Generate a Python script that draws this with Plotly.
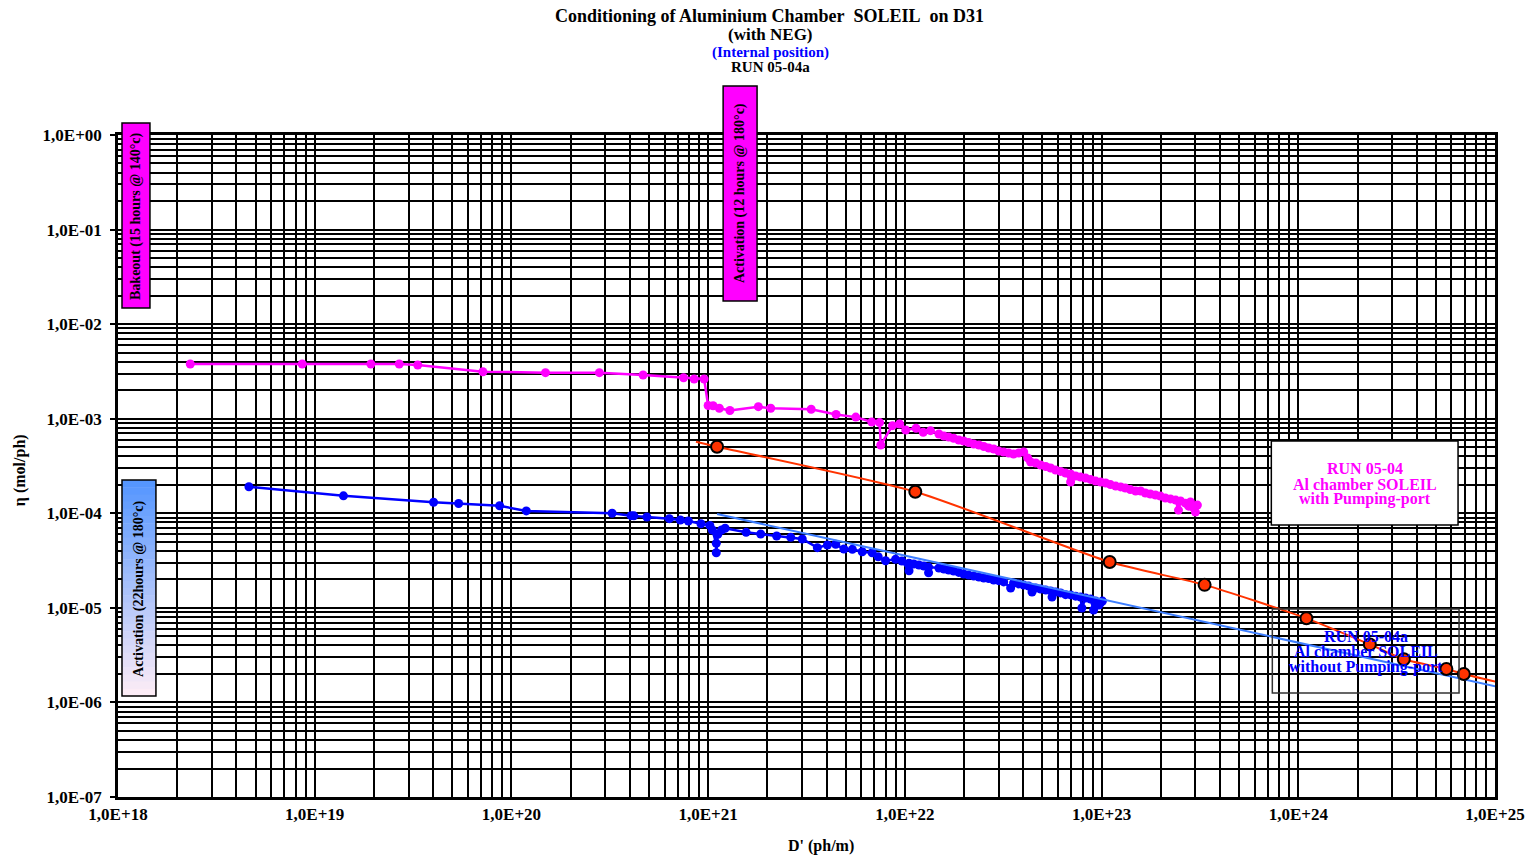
import plotly.graph_objects as go

# ---------------- data ----------------
# RUN 05-04 (with pumping port) - magenta
mag_x = [2.33e18, 8.64e18, 1.93e19, 2.69e19, 3.34e19, 7.16e19, 1.49e20, 2.80e20, 4.67e20, 7.50e20,
         8.49e20, 9.54e20, 1.00e21, 1.06e21, 1.14e21, 1.29e21, 1.80e21, 2.08e21, 3.34e21, 4.47e21,
         5.63e21, 6.79e21, 7.44e21, 7.54e21, 8.65e21, 9.40e21, 1.01e22, 1.14e22, 1.24e22, 1.35e22,
         1.49e22, 1.58e22, 1.67e22, 1.77e22, 1.88e22, 1.99e22, 2.11e22, 2.24e22, 2.38e22, 2.52e22,
         2.67e22, 2.83e22, 3.00e22, 3.18e22, 3.37e22, 3.57e22, 3.79e22, 4.02e22, 4.21e22, 4.36e22,
         4.63e22, 4.90e22, 5.20e22, 5.51e22, 5.84e22, 6.19e22, 6.56e22, 6.96e22, 6.96e22, 7.38e22,
         7.82e22, 8.29e22, 8.79e22, 9.33e22, 9.89e22, 1.05e23, 1.11e23, 1.18e23, 1.25e23, 1.32e23,
         1.40e23, 1.49e23, 1.58e23, 1.67e23, 1.77e23, 1.88e23, 1.99e23, 2.11e23, 2.24e23, 2.38e23,
         2.46e23, 2.52e23, 2.67e23, 2.77e23, 2.83e23, 2.93e23, 3.00e23, 3.07e23]
mag_y = [3.79e-3, 3.79e-3, 3.79e-3, 3.79e-3, 3.70e-3, 3.14e-3, 3.07e-3, 3.07e-3, 2.90e-3, 2.71e-3,
         2.63e-3, 2.63e-3, 1.38e-3, 1.37e-3, 1.29e-3, 1.22e-3, 1.34e-3, 1.29e-3, 1.26e-3, 1.11e-3,
         1.04e-3, 9.23e-4, 9.10e-4, 5.27e-4, 8.44e-4, 8.80e-4, 7.60e-4, 7.92e-4, 7.18e-4, 7.47e-4,
         6.89e-4, 6.57e-4, 6.41e-4, 6.21e-4, 5.96e-4, 5.81e-4, 5.60e-4, 5.40e-4, 5.27e-4, 5.08e-4,
         4.90e-4, 4.78e-4, 4.56e-4, 4.45e-4, 4.34e-4, 4.23e-4, 4.34e-4, 4.45e-4, 3.85e-4, 3.49e-4,
         3.40e-4, 3.24e-4, 3.12e-4, 3.01e-4, 2.87e-4, 2.77e-4, 2.67e-4, 2.14e-4, 2.60e-4, 2.48e-4,
         2.42e-4, 2.36e-4, 2.28e-4, 2.19e-4, 2.14e-4, 2.09e-4, 2.01e-4, 1.94e-4, 1.90e-4, 1.85e-4,
         1.78e-4, 1.72e-4, 1.72e-4, 1.64e-4, 1.60e-4, 1.56e-4, 1.52e-4, 1.45e-4, 1.42e-4, 1.38e-4,
         1.08e-4, 1.35e-4, 1.28e-4, 1.19e-4, 1.32e-4, 1.14e-4, 1.03e-4, 1.22e-4]

# RUN 05-04a (without pumping port) - blue
blue_x = [4.63e18, 1.40e19, 4.02e19, 5.39e19, 8.71e19, 1.19e20, 3.25e20, 4.06e20, 4.19e20, 4.88e20,
          6.35e20, 7.22e20, 7.93e20, 9.19e20, 1.02e21, 1.05e21, 1.10e21, 1.10e21, 1.12e21, 1.17e21,
          1.22e21, 1.56e21, 1.85e21, 2.23e21, 2.63e21, 3.01e21, 3.59e21, 4.04e21, 4.45e21, 4.90e21,
          5.41e21, 6.07e21, 6.82e21, 7.32e21, 7.98e21, 8.97e21, 9.66e21, 1.05e22, 1.05e22, 1.11e22,
          1.18e22, 1.25e22, 1.32e22, 1.32e22, 1.49e22, 1.58e22, 1.67e22, 1.77e22, 1.88e22, 1.99e22,
          2.11e22, 2.24e22, 2.38e22, 2.52e22, 2.67e22, 2.83e22, 3.00e22, 3.18e22, 3.45e22, 3.57e22,
          3.79e22, 4.02e22, 4.26e22, 4.43e22, 4.63e22, 4.90e22, 5.20e22, 5.51e22, 5.60e22, 5.84e22,
          6.19e22, 6.56e22, 6.96e22, 7.38e22, 7.82e22, 7.94e22, 8.29e22, 8.79e22, 9.11e22, 9.33e22,
          9.70e22, 9.89e22, 1.01e23]
blue_y = [1.91e-4, 1.53e-4, 1.31e-4, 1.27e-4, 1.20e-4, 1.06e-4, 1.00e-4, 9.44e-5, 9.40e-5, 9.14e-5,
          8.77e-5, 8.49e-5, 8.28e-5, 7.76e-5, 7.45e-5, 6.65e-5, 4.81e-5, 3.83e-5, 6.00e-5, 6.65e-5,
          6.94e-5, 6.29e-5, 6.04e-5, 5.75e-5, 5.57e-5, 5.35e-5, 4.33e-5, 4.62e-5, 4.70e-5, 4.19e-5,
          4.16e-5, 3.92e-5, 3.83e-5, 3.47e-5, 3.15e-5, 3.26e-5, 3.13e-5, 2.47e-5, 2.96e-5, 2.91e-5,
          2.84e-5, 2.77e-5, 2.35e-5, 2.70e-5, 2.64e-5, 2.57e-5, 2.51e-5, 2.45e-5, 2.37e-5, 2.28e-5,
          2.22e-5, 2.17e-5, 2.12e-5, 2.07e-5, 2.04e-5, 1.97e-5, 1.94e-5, 1.88e-5, 1.62e-5, 1.83e-5,
          1.79e-5, 1.74e-5, 1.70e-5, 1.47e-5, 1.62e-5, 1.58e-5, 1.54e-5, 1.51e-5, 1.30e-5, 1.47e-5,
          1.44e-5, 1.38e-5, 1.37e-5, 1.33e-5, 1.30e-5, 9.96e-6, 1.27e-5, 1.24e-5, 9.48e-6, 1.18e-5,
          1.07e-5, 1.13e-5, 1.18e-5]

# RUN 05-04 extrapolation points (red) and curves
red_x = [1.11e21, 1.13e22, 1.10e23, 3.34e23, 1.10e24, 2.31e24, 3.44e24, 5.66e24, 6.94e24]
red_y = [5.06e-4, 1.69e-4, 3.05e-5, 1.75e-5, 7.75e-6, 4.11e-6, 2.86e-6, 2.26e-6, 2.00e-6]
red_fit_x = [8.67e20, 1.11e21, 1.13e22, 1.10e23, 3.34e23, 1.10e24, 2.31e24, 3.44e24, 5.66e24, 6.94e24, 1.04e25]
red_fit_y = [5.71e-4, 5.06e-4, 1.69e-4, 3.05e-5, 1.75e-5, 7.75e-6, 4.11e-6, 2.86e-6, 2.26e-6, 2.00e-6, 1.63e-6]
blue_fit_x = [1.11e21, 1.23e25]
blue_fit_y = [9.83e-5, 1.35e-6]

x_tickvals = [1e18, 1e19, 1e20, 1e21, 1e22, 1e23, 1e24, 1e25]
x_ticktext = ["1,0E+18", "1,0E+19", "1,0E+20", "1,0E+21", "1,0E+22", "1,0E+23", "1,0E+24", "1,0E+25"]
y_tickvals = [1e0, 1e-1, 1e-2, 1e-3, 1e-4, 1e-5, 1e-6, 1e-7]
y_ticktext = ["1,0E+00", "1,0E-01", "1,0E-02", "1,0E-03", "1,0E-04", "1,0E-05", "1,0E-06", "1,0E-07"]

# ---------------- layout helpers ----------------
W, H = 1537, 856
L, R, T, B = 118, 1497, 135, 797
SERIF = "Liberation Serif, Times New Roman, serif"


def px(x):
    return (x - L) / (R - L)


def py(y):
    return (B - y) / (B - T)


fig = go.Figure()

fig.add_trace(go.Scatter(x=mag_x, y=mag_y, mode="lines+markers",
                         line=dict(color="#FF00FF", width=2.5),
                         marker=dict(color="#FF00FF", size=9), showlegend=False))
fig.add_trace(go.Scatter(x=blue_x, y=blue_y, mode="lines+markers",
                         line=dict(color="#0000FF", width=2.5),
                         marker=dict(color="#0000FF", size=9), showlegend=False))
fig.add_trace(go.Scatter(x=blue_fit_x, y=blue_fit_y, mode="lines",
                         line=dict(color="#3D7EFF", width=2), showlegend=False))
fig.add_trace(go.Scatter(x=red_fit_x, y=red_fit_y, mode="lines",
                         line=dict(color="#FF3300", width=2, shape="spline", smoothing=0.6),
                         showlegend=False))
fig.add_trace(go.Scatter(x=red_x, y=red_y, mode="markers",
                         marker=dict(color="#FF3300", size=12, line=dict(color="black", width=2)),
                         showlegend=False))

shapes = []
# magenta label boxes
shapes.append(dict(type="rect", xref="paper", yref="paper", x0=px(122), x1=px(150), y0=py(308), y1=py(123),
                   fillcolor="#FF00FF", line=dict(color="black", width=1.5), layer="above"))
shapes.append(dict(type="rect", xref="paper", yref="paper", x0=px(724), x1=px(758), y0=py(301), y1=py(86),
                   fillcolor="#FF00FF", line=dict(color="black", width=1.5), layer="above"))
# gradient box (blue -> light pink)
top_c = (85, 150, 255)
bot_c = (252, 236, 246)
nb = 30
y_top, y_bot = 480, 696
for i in range(nb):
    f = i / (nb - 1)
    c = tuple(int(round(top_c[k] + (bot_c[k] - top_c[k]) * f)) for k in range(3))
    ya = y_top + (y_bot - y_top) * i / nb
    yb = y_top + (y_bot - y_top) * (i + 1) / nb
    shapes.append(dict(type="rect", xref="paper", yref="paper", x0=px(122), x1=px(156),
                       y0=py(yb + 0.5), y1=py(ya), fillcolor="rgb(%d,%d,%d)" % c,
                       line=dict(width=0), layer="above"))
shapes.append(dict(type="rect", xref="paper", yref="paper", x0=px(122), x1=px(156), y0=py(696), y1=py(480),
                   fillcolor="rgba(0,0,0,0)", line=dict(color="black", width=1.5), layer="above"))
# legend boxes
shapes.append(dict(type="rect", xref="paper", yref="paper", x0=px(1273), x1=px(1460), y0=py(525), y1=py(441),
                   fillcolor="white", line=dict(color="black", width=1.5), layer="above"))
shapes.append(dict(type="rect", xref="paper", yref="paper", x0=px(1274), x1=px(1461), y0=py(693), y1=py(609),
                   fillcolor="rgba(0,0,0,0)", line=dict(color="#333333", width=1.5), layer="above"))

ann = []


def add_text(x, y, text, size=14, color="black", angle=0, weight="bold"):
    ann.append(dict(xref="paper", yref="paper", x=px(x), y=py(y), text=text, showarrow=False,
                    textangle=angle, xanchor="center", yanchor="middle",
                    font=dict(family=SERIF, size=size, color=color, weight=weight)))


add_text(770, 16, "Conditioning of Aluminium Chamber&nbsp; SOLEIL&nbsp; on D31", size=18)
add_text(771, 35, "(with NEG)", size=17)
add_text(771, 52, "(Internal position)", size=15, color="#0000FF")
add_text(771, 67, "RUN 05-04a", size=15)

add_text(136, 216, "Bakeout (15 hours @ 140°c)", size=14, angle=-90)
add_text(741, 193, "Activation (12 hours @ 180°c)", size=14, angle=-90)
add_text(139, 589, "Activation (22hours @ 180°c)", size=14, angle=-90)

add_text(1367, 468, "RUN 05-04", size=16, color="#FF00FF")
add_text(1367, 484, "Al chamber SOLEIL", size=16, color="#FF00FF")
add_text(1367, 499, "with Pumping-port", size=16, color="#FF00FF")
add_text(1368, 636, "RUN 05-04a", size=16, color="#0000FF")
add_text(1368, 651, "Al chamber SOLEIL", size=16, color="#0000FF")
add_text(1368, 667, "without Pumping-port", size=16, color="#0000FF")

add_text(20, 470, "η (mol/ph)", size=16, angle=-90)
add_text(822, 846, "D' (ph/m)", size=16)

axis_common = dict(
    type="log",
    showgrid=True, gridcolor="black", gridwidth=2,
    minor=dict(dtick="D1", showgrid=True, gridcolor="black", gridwidth=2, ticks=""),
    showline=True, linecolor="black", linewidth=2.5, mirror=True,
    tickcolor="black", tickwidth=2,
    tickfont=dict(family=SERIF, size=17, color="black", weight="bold"),
    zeroline=False,
)

fig.update_layout(
    width=W, height=H, autosize=False,
    margin=dict(l=L, r=W - R, t=T, b=H - B),
    paper_bgcolor="white", plot_bgcolor="white",
    showlegend=False,
    shapes=shapes, annotations=ann,
    xaxis=dict(range=[18, 25], tickvals=x_tickvals, ticktext=x_ticktext, ticks="", **axis_common),
    yaxis=dict(range=[-7, 0], tickvals=y_tickvals, ticktext=y_ticktext, ticks="outside", ticklen=5,
               ticklabelstandoff=5, **axis_common),
)

fig.write_html("out.html", config={"displayModeBar": False},
               post_script="document.body.style.margin='0px';document.body.style.overflow='hidden';")
